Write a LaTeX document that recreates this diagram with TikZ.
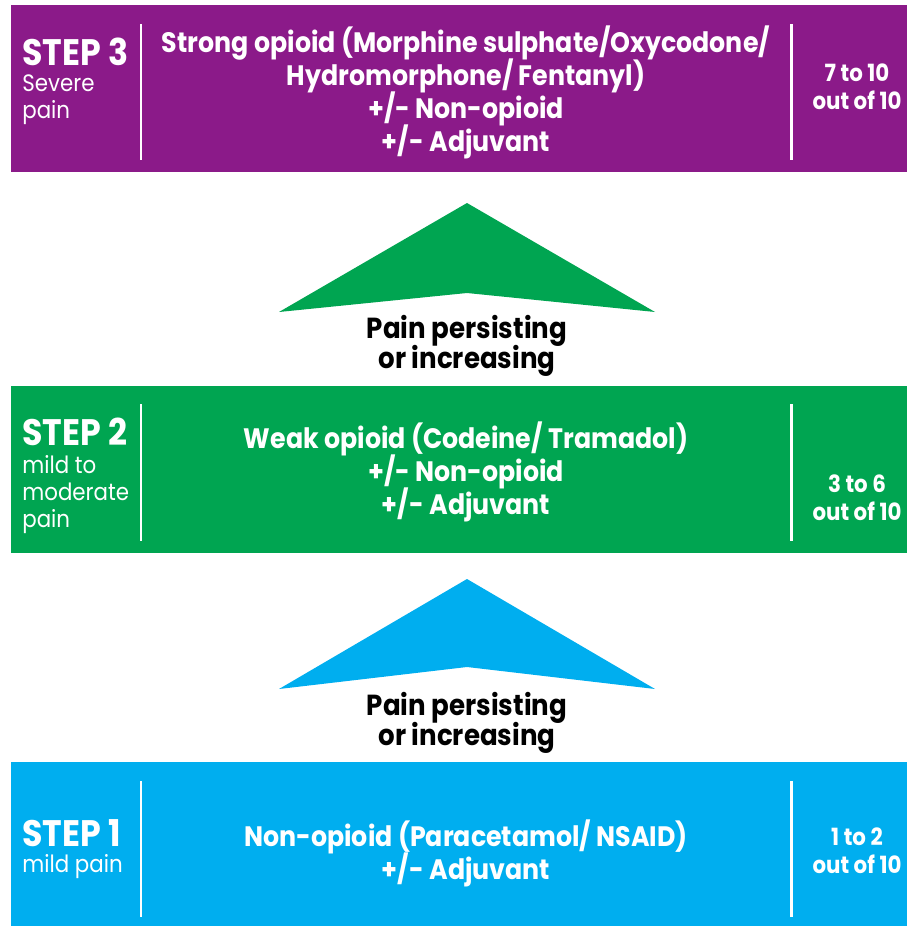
\documentclass[tikz,border=0pt]{standalone}
\usepackage{fontspec}
\setmainfont[FakeStretch=0.9]{Poppins}
\usetikzlibrary{positioning}
\definecolor{stepPurple}{RGB}{139,26,137}
\definecolor{stepGreen}{RGB}{0,165,81}
\definecolor{stepBlue}{RGB}{0,174,239}
\newcommand\tightlines{\lineskiplimit-20pt\relax}

\begin{document}
\begin{tikzpicture}[x=0.02cm, y=-0.02cm,
  stepbox/.style={inner sep=0pt, minimum width=17.92cm, minimum height=3.34cm},
  divider/.style={white, line width=1.7pt},
  steptitle/.style={white, anchor=west, inner sep=0pt, font=\fontsize{21}{26}\selectfont\bfseries},
  stepsub/.style={white, anchor=west, inner sep=0pt, align=left, font=\fontsize{13.5}{15.3}\selectfont\tightlines},
  drugs/.style={white, inner sep=0pt, align=center, font=\fontsize{16}{18.7}\selectfont\bfseries\tightlines},
  score/.style={white, inner sep=0pt, align=center, font=\fontsize{13.5}{16}\selectfont\bfseries\tightlines},
  persist/.style={black, inner sep=0pt, align=center, font=\fontsize{16.5}{16.8}\selectfont\bfseries\tightlines}]
\path[use as bounding box] (0,0) rectangle (908,926);

\node[stepbox, fill=stepPurple] (box3) at (459,88.5) {};
\node[stepbox, fill=stepGreen] (box2) at (459,469.5) {};
\node[stepbox, fill=stepBlue, minimum height=3.28cm] (box1) at (459,844) {};

\draw[divider] (141,24) -- (141,160);
\draw[divider] (791,24) -- (791,160);
\draw[divider] (141,404) -- (141,541);
\draw[divider] (791,404) -- (791,541);
\draw[divider] (141,781) -- (141,917);
\draw[divider] (791,781) -- (791,917);

\node[steptitle] (title3) at (22,51.5) {STEP 3};
\node[stepsub] (sub3) at (22,99.5) {Severe\\pain};
\node[drugs] (drugs3) at (466,92.5) {Strong opioid (Morphine sulphate/Oxycodone/\\Hydromorphone/ Fentanyl)\\+/- Non-opioid\\+/- Adjuvant};
\node[score] (score3) at (857,86.5) {7 to 10\\out of 10};

\fill[stepGreen] (467,203) -- (655,312) -- (467,293) -- (279,312) -- cycle;
\node[persist] (persist2) at (467,346) {Pain persisting\\or increasing};

\node[steptitle] (title2) at (22,432) {STEP 2};
\node[stepsub] (sub2) at (22,494.5) {mild to\\moderate\\pain};
\node[drugs] (drugs2) at (466,472) {Weak opioid (Codeine/ Tramadol)\\+/- Non-opioid\\+/- Adjuvant};
\node[score] (score2) at (857,497.5) {3 to 6\\out of 10};

\fill[stepBlue] (467,579) -- (655,689) -- (467,667) -- (279,689) -- cycle;
\node[persist] (persist1) at (467,723) {Pain persisting\\or increasing};

\node[steptitle] (title1) at (22,833) {STEP 1};
\node[stepsub] (sub1) at (22,867) {mild pain};
\node[drugs] (drugs1) at (466,853.5) {Non-opioid (Paracetamol/ NSAID)\\+/- Adjuvant};
\node[score] (score1) at (857,851) {1 to 2\\out of 10};
\end{tikzpicture}
\end{document}
